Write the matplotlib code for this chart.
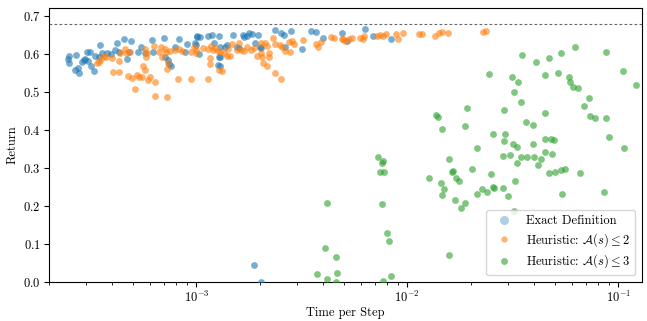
import matplotlib
matplotlib.use("Agg")
import matplotlib.pyplot as plt
from matplotlib.lines import Line2D

# ---------------- data ----------------
exact_time = [
    2.46e-4, 2.49e-4, 2.50e-4, 2.69e-4, 2.67e-4, 2.74e-4, 2.79e-4, 2.86e-4, 2.92e-4, 2.97e-4,
    3.06e-4, 3.03e-4, 3.14e-4, 3.18e-4, 3.26e-4, 3.31e-4, 3.44e-4, 3.48e-4, 3.56e-4, 3.78e-4,
    3.95e-4, 4.09e-4, 4.20e-4, 4.31e-4, 4.52e-4, 4.69e-4, 4.77e-4, 4.91e-4, 5.28e-4, 5.48e-4,
    5.73e-4, 6.15e-4, 6.21e-4, 7.00e-4, 7.13e-4, 7.31e-4, 7.45e-4, 7.60e-4, 7.89e-4, 8.30e-4,
    8.87e-4, 9.03e-4, 9.82e-4, 1.01e-3,
    1.01e-3, 1.04e-3, 1.00e-3, 1.03e-3, 1.13e-3, 1.19e-3, 1.28e-3, 1.21e-3, 1.29e-3, 1.28e-3,
    1.30e-3, 1.27e-3, 1.29e-3, 1.36e-3, 1.39e-3, 1.49e-3, 1.55e-3, 1.59e-3, 1.66e-3, 1.69e-3,
    1.73e-3, 1.77e-3, 1.84e-3, 1.95e-3, 1.89e-3, 2.00e-3, 2.03e-3, 2.35e-3, 2.51e-3, 2.61e-3,
    2.62e-3, 2.80e-3, 3.15e-3, 3.49e-3, 3.67e-3, 3.99e-3, 4.88e-3,
    6.30e-3, 6.84e-3, 8.33e-3, 5.15e-3,
    1.87e-3, 2.03e-3,
]
exact_return = [
    0.588, 0.595, 0.577, 0.598, 0.558, 0.562, 0.551, 0.580, 0.584, 0.586,
    0.582, 0.606, 0.604, 0.568, 0.556, 0.595, 0.593, 0.623, 0.603, 0.602,
    0.599, 0.610, 0.630, 0.606, 0.639, 0.586, 0.606, 0.635, 0.604, 0.619,
    0.603, 0.637, 0.604, 0.641, 0.593, 0.584, 0.574, 0.567, 0.619, 0.639,
    0.606, 0.626, 0.630, 0.647,
    0.644, 0.644, 0.624, 0.600, 0.648, 0.650, 0.647, 0.628, 0.619, 0.593,
    0.591, 0.571, 0.567, 0.619, 0.623, 0.650, 0.619, 0.615, 0.650, 0.644,
    0.647, 0.656, 0.653, 0.650, 0.628, 0.619, 0.615, 0.663, 0.654, 0.650,
    0.619, 0.661, 0.612, 0.661, 0.659, 0.641, 0.654,
    0.666, 0.646, 0.639, 0.634,
    0.043, 0.000,
]

h2_time = [
    3.37e-4, 3.44e-4, 3.54e-4, 3.63e-4, 3.72e-4, 3.98e-4, 4.01e-4, 4.28e-4, 4.28e-4, 4.36e-4,
    4.57e-4, 4.64e-4, 4.86e-4, 4.74e-4, 4.95e-4, 5.23e-4, 5.36e-4, 5.52e-4, 5.58e-4, 5.73e-4,
    5.89e-4, 6.05e-4, 6.39e-4, 5.09e-4, 5.69e-4, 5.83e-4, 5.77e-4, 6.27e-4, 6.67e-4, 6.82e-4,
    7.08e-4, 6.87e-4, 7.18e-4, 7.26e-4, 7.33e-4, 7.52e-4, 7.94e-4, 8.24e-4, 8.55e-4, 8.19e-4,
    9.46e-4, 9.46e-4, 9.71e-4, 9.96e-4, 6.39e-4, 7.26e-4,
    1.00e-3, 1.07e-3, 1.14e-3, 1.17e-3, 1.16e-3, 1.16e-3, 1.14e-3, 1.20e-3, 1.23e-3, 1.26e-3,
    1.28e-3, 1.32e-3, 1.29e-3, 1.35e-3, 1.39e-3, 1.44e-3, 1.41e-3, 1.48e-3, 1.55e-3, 1.59e-3,
    1.63e-3, 1.69e-3, 1.74e-3, 1.81e-3, 1.88e-3, 1.93e-3, 2.02e-3, 2.03e-3, 2.05e-3, 2.11e-3,
    2.17e-3, 2.20e-3, 2.20e-3, 2.07e-3, 2.17e-3, 2.31e-3, 2.37e-3, 2.49e-3, 2.55e-3, 2.64e-3,
    2.74e-3, 2.84e-3, 2.91e-3, 2.77e-3, 3.21e-3, 2.37e-3, 2.53e-3, 3.67e-3, 3.78e-3, 3.89e-3,
    4.34e-3, 4.50e-3, 4.91e-3,
    4.96e-3, 5.06e-3, 5.30e-3, 5.49e-3, 5.95e-3, 6.22e-3, 6.18e-3, 7.15e-3, 7.41e-3, 7.69e-3,
    7.91e-3, 8.83e-3, 9.05e-3, 9.57e-3, 1.13e-2, 1.17e-2, 1.35e-2, 1.42e-2, 1.46e-2, 1.56e-2,
    2.29e-2, 2.36e-2,
]
h2_return = [
    0.575, 0.580, 0.586, 0.595, 0.593, 0.589, 0.553, 0.553, 0.582, 0.602,
    0.612, 0.602, 0.606, 0.542, 0.536, 0.545, 0.540, 0.538, 0.567, 0.558,
    0.531, 0.538, 0.527, 0.507, 0.612, 0.602, 0.593, 0.621, 0.605, 0.619,
    0.612, 0.591, 0.606, 0.560, 0.575, 0.609, 0.610, 0.612, 0.609, 0.533,
    0.533, 0.606, 0.619, 0.603, 0.489, 0.486,
    0.610, 0.615, 0.612, 0.621, 0.589, 0.574, 0.533, 0.610, 0.615, 0.609,
    0.558, 0.556, 0.606, 0.602, 0.595, 0.595, 0.612, 0.626, 0.610, 0.628,
    0.610, 0.609, 0.619, 0.610, 0.615, 0.595, 0.628, 0.602, 0.591, 0.628,
    0.621, 0.603, 0.593, 0.575, 0.568, 0.641, 0.626, 0.624, 0.619, 0.609,
    0.632, 0.635, 0.626, 0.606, 0.637, 0.549, 0.533, 0.626, 0.619, 0.632,
    0.644, 0.641, 0.639,
    0.639, 0.634, 0.639, 0.643, 0.643, 0.648, 0.639, 0.646, 0.650, 0.646,
    0.652, 0.652, 0.639, 0.654, 0.653, 0.652, 0.648, 0.654, 0.657, 0.654,
    0.657, 0.660,
]

h3_time = [
    7.28e-3, 7.63e-3, 7.55e-3, 7.41e-3, 7.78e-3, 4.18e-3, 7.61e-3, 8.03e-3, 8.21e-3, 4.06e-3,
    4.57e-3, 3.72e-3, 4.64e-3, 4.18e-3, 8.33e-3, 7.66e-3, 4.59e-3,
    3.48e-2, 4.06e-2, 2.44e-2, 3.15e-2, 3.33e-2, 3.21e-2, 3.45e-2, 1.91e-2, 2.87e-2, 1.37e-2,
    1.40e-2, 3.65e-2, 3.96e-2, 1.88e-2, 1.46e-2, 2.56e-2, 2.90e-2, 2.86e-2, 3.18e-2, 3.30e-2,
    3.96e-2, 2.15e-2, 1.58e-2, 2.85e-2, 3.05e-2, 3.45e-2, 3.71e-2, 3.99e-2,
    4.67e-2, 5.34e-2, 6.24e-2, 8.72e-2, 4.50e-2, 5.16e-2, 5.87e-2, 5.91e-2, 6.13e-2, 6.47e-2,
    1.05e-1, 1.21e-1, 7.28e-2, 6.84e-2, 4.47e-2, 7.36e-2, 7.77e-2, 8.76e-2, 9.05e-2, 4.50e-2,
    4.79e-2, 4.97e-2, 1.06e-1, 4.48e-2, 4.84e-2, 4.30e-2, 3.30e-2, 4.14e-2,
    1.64e-2, 1.62e-2, 2.02e-2, 2.48e-2, 1.26e-2, 1.70e-2, 1.76e-2, 1.44e-2, 1.49e-2, 3.24e-2,
    2.25e-2, 2.38e-2, 2.54e-2, 2.58e-2, 2.83e-2, 2.15e-2, 1.46e-2, 3.01e-2, 1.68e-2, 1.88e-2,
    1.79e-2, 3.22e-2, 1.57e-2,
    4.67e-2, 5.02e-2, 5.33e-2, 5.60e-2, 6.55e-2, 5.39e-2, 8.57e-2,
]
h3_return = [
    0.328, 0.319, 0.314, 0.289, 0.289, 0.207, 0.204, 0.129, 0.108, 0.089,
    0.066, 0.020, 0.022, 0.006, 0.015, 0.003, 0.000,
    0.598, 0.578, 0.546, 0.540, 0.527, 0.499, 0.473, 0.458, 0.452, 0.440,
    0.435, 0.420, 0.414, 0.411, 0.401, 0.390, 0.390, 0.372, 0.364, 0.354,
    0.363, 0.352, 0.323, 0.331, 0.334, 0.329, 0.329, 0.329,
    0.589, 0.603, 0.618, 0.605, 0.545, 0.549, 0.540, 0.527, 0.514, 0.511,
    0.556, 0.518, 0.484, 0.463, 0.445, 0.437, 0.432, 0.432, 0.382, 0.375,
    0.377, 0.373, 0.352, 0.343, 0.337, 0.323, 0.312, 0.308,
    0.292, 0.290, 0.297, 0.284, 0.274, 0.274, 0.265, 0.259, 0.244, 0.265,
    0.244, 0.237, 0.250, 0.248, 0.248, 0.231, 0.229, 0.227, 0.214, 0.207,
    0.193, 0.185, 0.070,
    0.286, 0.288, 0.294, 0.296, 0.287, 0.230, 0.237,
]

labels = ["Exact Definition", r"Heuristic: $\mathcal{A}(s) \leq 2$", r"Heuristic: $\mathcal{A}(s) \leq 3$"]
optimal_return = 0.68

# ---------------- style ----------------
plt.rcParams.update({
    "font.family": "serif",
    "font.serif": ["cmr10", "DejaVu Serif"],
    "mathtext.fontset": "cm",
    "axes.unicode_minus": False,
    "axes.formatter.use_mathtext": True,
    "font.size": 9,
    "xtick.major.pad": 2.5,
    "ytick.major.pad": 2.5,
})

fig = plt.figure(figsize=(6.47, 3.21), dpi=100)
ax = fig.add_axes([0.0757, 0.1224, 0.916, 0.8526])

colors = ["tab:blue", "tab:orange", "tab:green"]
ax.scatter(exact_time, exact_return, s=24, color=colors[0], alpha=0.6, linewidths=0, zorder=3)
ax.scatter(h2_time, h2_return, s=24, color=colors[1], alpha=0.6, linewidths=0, zorder=3)
ax.scatter(h3_time, h3_return, s=24, color=colors[2], alpha=0.6, linewidths=0, zorder=3)

ax.axhline(optimal_return, color="0.4", linestyle=(0, (2.5, 2)), linewidth=0.8, zorder=1)

ax.set_xscale("log")
ax.set_xlim(2.0e-4, 0.129)
ax.set_ylim(0.0, 0.721)
ax.set_xlabel("Time per Step", labelpad=1.5)
ax.set_ylabel("Return", labelpad=3)

handles = [
    Line2D([], [], marker="o", linestyle="none", markersize=6.5, markeredgewidth=0,
           color=colors[0], alpha=0.35),
    Line2D([], [], marker="o", linestyle="none", markersize=4.5, markeredgewidth=0,
           color=colors[1], alpha=0.6),
    Line2D([], [], marker="o", linestyle="none", markersize=5, markeredgewidth=0,
           color=colors[2], alpha=0.6),
]
ax.legend(handles, labels, loc="lower right", fontsize=9, framealpha=0.8,
          borderaxespad=0.5, labelspacing=0.3, borderpad=0.4)

fig.savefig("out.png", dpi=100)
